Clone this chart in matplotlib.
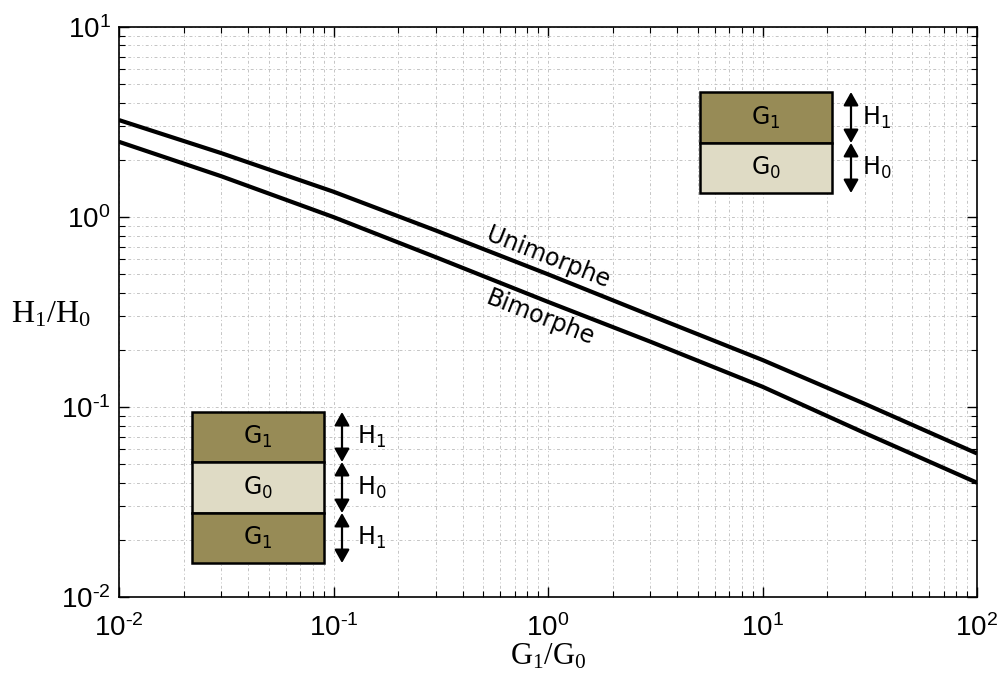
import matplotlib
matplotlib.use("Agg")
import matplotlib.pyplot as plt
from matplotlib.patches import Rectangle, FancyArrowPatch

# G1/G0 ratio and optimal H1/H0
g_ratio = [0.01, 0.03, 0.1, 0.3, 1.0, 3.0, 10.0, 30.0, 100.0]
h_unimorph = [3.24, 2.17, 1.36, 0.85, 0.50, 0.304, 0.177, 0.104, 0.057]
h_bimorph = [2.49, 1.64, 1.00, 0.615, 0.358, 0.221, 0.128, 0.073, 0.040]

xticks = [1e-2, 1e-1, 1e0, 1e1, 1e2]
xtick_labels = [r"$\mathtt{10^{\text{-}2}}$", r"$\mathtt{10^{\text{-}1}}$",
                r"$\mathtt{10^{0}}$", r"$\mathtt{10^{1}}$", r"$\mathtt{10^{2}}$"]
yticks = [1e-2, 1e-1, 1e0, 1e1]
ytick_labels = [r"$\mathtt{10^{\text{-}2}}$", r"$\mathtt{10^{\text{-}1}}$",
                r"$\mathtt{10^{0}}$", r"$\mathtt{10^{1}}$"]

# rm -> serif axis labels, sf -> sketch labels, tt -> tick labels
plt.rcParams["mathtext.fontset"] = "custom"
plt.rcParams["mathtext.rm"] = "Liberation Serif"
plt.rcParams["mathtext.it"] = "Liberation Serif"
plt.rcParams["mathtext.sf"] = "DejaVu Sans"
plt.rcParams["mathtext.tt"] = "Liberation Sans"

fig = plt.figure(figsize=(10, 6.77), dpi=100)
ax = fig.add_axes([0.119, 0.118, 0.858, 0.842])

ax.loglog(g_ratio, h_unimorph, color="k", lw=3, solid_capstyle="butt")
ax.loglog(g_ratio, h_bimorph, color="k", lw=3, solid_capstyle="butt")

ax.set_xlim(1e-2, 1e2)
ax.set_ylim(1e-2, 1e1)
ax.set_xticks(xticks)
ax.set_xticklabels(xtick_labels, fontsize=20)
ax.set_yticks(yticks)
ax.set_yticklabels(ytick_labels, fontsize=20)

# MATLAB-like grid and ticks
grid_style = dict(color="#c4c4c4", lw=0.7, linestyle=(0, (3, 2.5, 1, 2.5)))
ax.grid(True, which="major", **grid_style)
ax.grid(True, which="minor", **grid_style)
ax.tick_params(which="both", direction="in", top=True, right=True)
ax.tick_params(which="major", length=7, width=1)
ax.tick_params(axis="x", which="major", pad=12)
ax.tick_params(axis="y", which="major", pad=6)
ax.tick_params(which="minor", length=4, width=0.8)
for s in ax.spines.values():
    s.set_linewidth(1.2)

ax.set_xlabel(r"$\mathrm{G_1/G_0}$", fontsize=22, labelpad=0)
ax.set_ylabel(r"$\mathrm{H_1/H_0}$", fontsize=23, rotation=0)
ax.yaxis.set_label_coords(-0.079, 0.47)

# curve labels
ax.text(1.0, 0.61, "Unimorphe", rotation=-21.5, fontsize=17, ha="center", va="center",
        rotation_mode="anchor", family="DejaVu Sans")
ax.text(0.92, 0.294, "Bimorphe", rotation=-21.5, fontsize=17, ha="center", va="center",
        rotation_mode="anchor", family="DejaVu Sans")

# layer sketches (pixel positions converted to figure fraction)
W, H = 1000.0, 677.0
c_g1 = "#978b56"
c_g0 = "#dfdbc5"


def fx(px):
    return px / W


def fy(py):
    return 1 - py / H


def layer(x0, x1, y0, y1, color, label):
    fig.add_artist(Rectangle((fx(x0), fy(y1)), fx(x1) - fx(x0), fy(y0) - fy(y1),
                             transform=fig.transFigure, facecolor=color,
                             edgecolor="k", lw=1.8, zorder=5))
    fig.text(fx((x0 + x1) / 2), fy((y0 + y1) / 2), label, fontsize=17,
             ha="center", va="center", zorder=6)


def harrow(x, y0, y1, label, lx):
    fig.add_artist(FancyArrowPatch(
        (fx(x), fy(y0)), (fx(x), fy(y1)), transform=fig.transFigure,
        arrowstyle="<|-|>,head_length=8,head_width=4.5", color="k", lw=1.6,
        shrinkA=0, shrinkB=0, zorder=6))
    fig.text(fx(lx), fy((y0 + y1) / 2), label, fontsize=17, ha="left",
             va="center", zorder=6)


# unimorph sketch (top right)
layer(700, 832, 92, 143, c_g1, r"$\mathsf{G_1}$")
layer(700, 832, 143, 193, c_g0, r"$\mathsf{G_0}$")
harrow(851, 92, 143, r"$\mathsf{H_1}$", 862)
harrow(851, 143, 193, r"$\mathsf{H_0}$", 862)

# bimorph sketch (bottom left)
layer(192, 324, 412, 462, c_g1, r"$\mathsf{G_1}$")
layer(192, 324, 462, 513, c_g0, r"$\mathsf{G_0}$")
layer(192, 324, 513, 563, c_g1, r"$\mathsf{G_1}$")
harrow(342, 412, 462, r"$\mathsf{H_1}$", 357)
harrow(342, 462, 513, r"$\mathsf{H_0}$", 357)
harrow(342, 513, 563, r"$\mathsf{H_1}$", 357)

fig.savefig("out.png", dpi=100)
